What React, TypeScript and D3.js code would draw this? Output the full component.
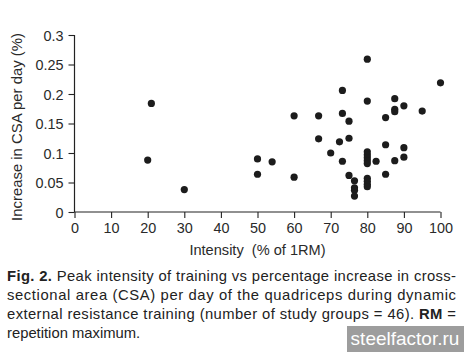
import React, { useEffect, useRef } from "react";
import * as d3 from "d3";

// peak intensity (% of 1RM) and CSA increase per day (%) for each study group
const intensity = [
  20, 21, 30, 50, 50, 54, 60, 60, 66.7, 66.7, 70, 72.4, 73.2, 73.2, 73.2, 75, 75, 75,
  76.5, 76.5, 76.5, 76.5, 80, 80, 80, 80, 80, 80, 80, 80, 80, 80, 80, 82.4, 85, 85, 85,
  87.5, 87.5, 87.5, 87.5, 90, 90, 90, 95, 100,
];
const csaIncrease = [
  0.088, 0.184, 0.038, 0.09, 0.064, 0.085, 0.163, 0.059, 0.163, 0.124, 0.1, 0.119, 0.206,
  0.167, 0.086, 0.154, 0.125, 0.062, 0.053, 0.041, 0.037, 0.027, 0.259, 0.188, 0.102,
  0.097, 0.092, 0.087, 0.082, 0.057, 0.052, 0.047, 0.043, 0.086, 0.16, 0.114, 0.064,
  0.192, 0.174, 0.17, 0.087, 0.18, 0.109, 0.093, 0.171, 0.219,
];
const xTicks = [0, 10, 20, 30, 40, 50, 60, 70, 80, 90, 100];
const yTicks = [0, 0.05, 0.1, 0.15, 0.2, 0.25, 0.3];

const FONT = "'Liberation Sans', Arial, Helvetica, sans-serif";

const App = () => {
  const svgRef = useRef(null);

  useEffect(() => {
    const svg = d3.select(svgRef.current);
    svg.selectAll("*").remove();

    const x = d3.scaleLinear().domain([0, 100]).range([74.5, 440.5]);
    const y = d3.scaleLinear().domain([0, 0.3]).range([212, 35]);

    // axes
    const xAxis = svg
      .append("g")
      .attr("transform", `translate(0,${y(0)})`)
      .call(d3.axisBottom(x).tickValues(xTicks).tickSize(6).tickPadding(5).tickFormat(d3.format("d")));
    const yAxis = svg
      .append("g")
      .attr("transform", `translate(${x(0)},0)`)
      .call(d3.axisLeft(y).tickValues(yTicks).tickSize(6).tickPadding(5).tickFormat((d) => String(+d)));

    [xAxis, yAxis].forEach((g) => {
      g.select(".domain").attr("stroke", "#222").attr("stroke-width", 1.2);
      g.selectAll(".tick line").attr("stroke", "#222").attr("stroke-width", 1.1);
      g.selectAll(".tick text")
        .style("font-family", FONT)
        .style("font-size", "14.4px")
        .attr("fill", "#2a2a2a");
    });
    yAxis.selectAll(".tick text").attr("dy", "0.36em");
    xAxis.selectAll(".tick text").attr("dy", "0.72em");
    // no outer tick ends on the domain lines
    xAxis.select(".domain").attr("d", `M${x(0)},0H${x(100)}`);
    yAxis.select(".domain").attr("d", `M0,${y(0)}V${y(0.3)}`);

    // axis titles
    svg
      .append("text")
      .attr("x", (x(0) + x(100)) / 2)
      .attr("y", 255)
      .attr("text-anchor", "middle")
      .style("font-family", FONT)
      .style("font-size", "14.6px")
      .attr("fill", "#2a2a2a")
      .attr("xml:space", "preserve")
      .text("Intensity  (% of 1RM)");

    svg
      .append("text")
      .attr("transform", `translate(22,127) rotate(-90)`)
      .attr("text-anchor", "middle")
      .style("font-family", FONT)
      .style("font-size", "14.9px")
      .attr("fill", "#2a2a2a")
      .text("Increase in CSA per day (%)");

    // points
    svg
      .append("g")
      .selectAll("circle")
      .data(intensity.map((v, i) => ({ x: v, y: csaIncrease[i] })))
      .enter()
      .append("circle")
      .attr("cx", (d) => x(d.x))
      .attr("cy", (d) => y(d.y))
      .attr("r", 3.6)
      .attr("fill", "#1c1c1c");

    // caption, justified lines
    const caption = svg
      .append("g")
      .style("font-family", FONT)
      .style("font-size", "14.8px")
      .attr("fill", "#222");

    const l1 = caption.append("text").attr("x", 7).attr("y", 281).attr("textLength", 449).attr("lengthAdjust", "spacing");
    l1.append("tspan").attr("font-weight", "bold").text("Fig. 2.");
    l1.append("tspan").text(" Peak intensity of training vs percentage increase in cross-");

    caption
      .append("text")
      .attr("x", 7)
      .attr("y", 300)
      .attr("textLength", 449)
      .attr("lengthAdjust", "spacing")
      .text("sectional area (CSA) per day of the quadriceps during dynamic");

    const l3 = caption.append("text").attr("x", 7).attr("y", 319).attr("textLength", 449).attr("lengthAdjust", "spacing");
    l3.append("tspan").text("external resistance training (number of study groups = 46). ");
    l3.append("tspan").attr("font-weight", "bold").text("RM");
    l3.append("tspan").text(" =");

    caption.append("text").attr("x", 7).attr("y", 338).text("repetition maximum.");

    // watermark
    svg.append("rect").attr("x", 347).attr("y", 326).attr("width", 117).attr("height", 26).attr("fill", "#9d9d9d");
    svg
      .append("text")
      .attr("x", 405)
      .attr("y", 345)
      .attr("text-anchor", "middle")
      .style("font-family", FONT)
      .style("font-size", "19px")
      .attr("fill", "#fff")
      .text("steelfactor.ru");
  }, []);

  return (
    <svg
      ref={svgRef}
      width={464}
      height={352}
      style={{ position: "absolute", left: 0, top: 0, background: "#fff" }}
    ></svg>
  );
};

export default App;
